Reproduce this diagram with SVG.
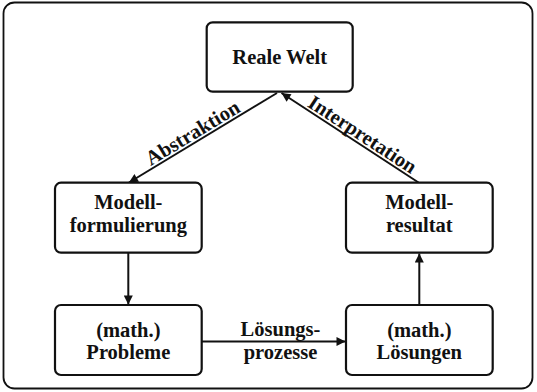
<svg xmlns="http://www.w3.org/2000/svg" width="537" height="392" viewBox="0 0 537 392">
<defs>
<style>
.box{fill:#fff;stroke:#111;stroke-width:2.2}
.t{font-family:"Liberation Serif","Times New Roman",serif;font-weight:bold;font-size:20.5px;fill:#111;text-anchor:middle}
.c{stroke:#111;stroke-width:2;fill:none}
</style>
<marker id="ah" viewBox="0 0 10 10" refX="10" refY="5" markerWidth="10" markerHeight="9" markerUnits="userSpaceOnUse" orient="auto">
<path d="M0,0 L10,5 L0,10 z" fill="#111"/>
</marker>
</defs>
<rect x="0" y="0" width="537" height="392" fill="#fff"/>
<rect x="3.5" y="2.5" width="529" height="386" rx="11" fill="none" stroke="#111" stroke-width="1.8"/>
<g id="connectors">
<line class="c" x1="277" y1="93" x2="129" y2="182.5" marker-end="url(#ah)"/>
<line class="c" x1="418.5" y1="182.5" x2="281.5" y2="93" marker-end="url(#ah)"/>
<line class="c" x1="128.3" y1="253" x2="128.3" y2="304.5" marker-end="url(#ah)"/>
<line class="c" x1="419.3" y1="305" x2="419.3" y2="253.5" marker-end="url(#ah)"/>
<line class="c" x1="201.7" y1="341.5" x2="345.5" y2="341.5" marker-end="url(#ah)"/>
<text class="t" transform="translate(197.7,141.1) rotate(-31.2)" x="0" y="-3">Abstraktion</text>
<text class="t" transform="translate(357.2,142.6) rotate(33.2)" x="0" y="-3">Interpretation</text>
<text class="t" x="280.5" y="336">Lösungs-</text>
<text class="t" x="280.5" y="359">prozesse</text>
</g>
<g id="reale-welt">
<rect class="box" x="206.7" y="22.3" width="146" height="69.4" rx="6"/>
<text class="t" x="279.7" y="64">Reale Welt</text>
</g>
<g id="modellformulierung">
<rect class="box" x="55" y="182.7" width="146.7" height="70" rx="6"/>
<text class="t" x="128.3" y="209">Modell-</text>
<text class="t" x="128.3" y="232">formulierung</text>
</g>
<g id="modellresultat">
<rect class="box" x="346" y="182.7" width="146.7" height="70" rx="6"/>
<text class="t" x="419.3" y="209">Modell-</text>
<text class="t" x="419.3" y="232">resultat</text>
</g>
<g id="probleme">
<rect class="box" x="55" y="305" width="146.7" height="70" rx="6"/>
<text class="t" x="128.3" y="336.5">(math.)</text>
<text class="t" x="128.3" y="358.5">Probleme</text>
</g>
<g id="loesungen">
<rect class="box" x="346" y="305" width="146.7" height="70" rx="6"/>
<text class="t" x="419.3" y="336.5">(math.)</text>
<text class="t" x="419.3" y="358.5">Lösungen</text>
</g>
</svg>
